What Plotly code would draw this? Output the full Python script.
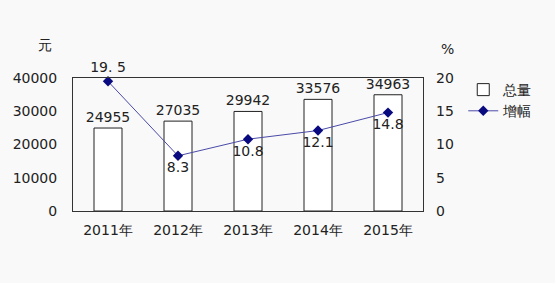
import plotly.graph_objects as go

years = ["2011年", "2012年", "2013年", "2014年", "2015年"]
totals = [24955, 27035, 29942, 33576, 34963]
growth = [19.5, 8.3, 10.8, 12.1, 14.8]
growth_labels = ["19. 5", "8.3", "10.8", "12.1", "14.8"]
growth_pos = ["top center", "bottom center", "bottom center", "bottom center", "bottom center"]
left_ticks = [0, 10000, 20000, 30000, 40000]
right_ticks = [0, 5, 10, 15, 20]

FONT = "DejaVu Sans"
TXT = "#222222"
FS = 14

fig = go.Figure()
fig.add_trace(go.Bar(
    x=years, y=totals, name="总量",
    marker=dict(color="white", line=dict(color="#222222", width=1)),
    text=[str(v) for v in totals], textposition="outside",
    textfont=dict(family=FONT, size=FS, color=TXT),
    constraintext="none", textangle=0,
    cliponaxis=False,
))
fig.add_trace(go.Scatter(
    x=years, y=growth, name="增幅", yaxis="y2",
    mode="lines+markers+text",
    line=dict(color="#4a4aa8", width=1),
    marker=dict(symbol="diamond", size=8, color="#0a0a80"),
    text=growth_labels, textposition=growth_pos,
    textfont=dict(family=FONT, size=FS, color=TXT),
    cliponaxis=False,
))

fig.update_layout(
    width=555, height=283,
    margin=dict(l=73, r=132, t=78, b=72),
    paper_bgcolor="#f9f9f9", plot_bgcolor="#f9f9f9",
    font=dict(family=FONT, size=FS, color=TXT),
    bargap=0.6,
    showlegend=True,
    legend=dict(x=1.115, y=1.03, xanchor="left", yanchor="top",
                bgcolor="rgba(0,0,0,0)", font=dict(size=FS),
                tracegroupgap=0, itemwidth=30),
    xaxis=dict(showline=True, linecolor="#333333", linewidth=1, mirror=True,
               showgrid=False, ticks="", ticklabelstandoff=6, tickfont=dict(size=FS)),
    yaxis=dict(range=[0, 40000], tickvals=left_ticks,
               ticktext=[str(v) for v in left_ticks],
               showgrid=False, zeroline=False, showline=True, linecolor="#333333",
               linewidth=1, mirror=True, ticks="", ticklabelstandoff=12,
               tickfont=dict(size=FS)),
    yaxis2=dict(range=[0, 20], tickvals=right_ticks,
                ticktext=[str(v) for v in right_ticks], overlaying="y",
                side="right", showgrid=False, zeroline=False, showline=False,
                ticks="", ticklabelstandoff=12, tickfont=dict(size=FS)),
    annotations=[
        dict(text="元", xref="paper", yref="paper", x=-0.055, y=1.25,
             showarrow=False, xanchor="right", yanchor="middle", font=dict(size=FS)),
        dict(text="%", xref="paper", yref="paper", x=1.045, y=1.22,
             showarrow=False, xanchor="left", yanchor="middle", font=dict(size=FS)),
    ],
)

fig.write_html("out.html")
